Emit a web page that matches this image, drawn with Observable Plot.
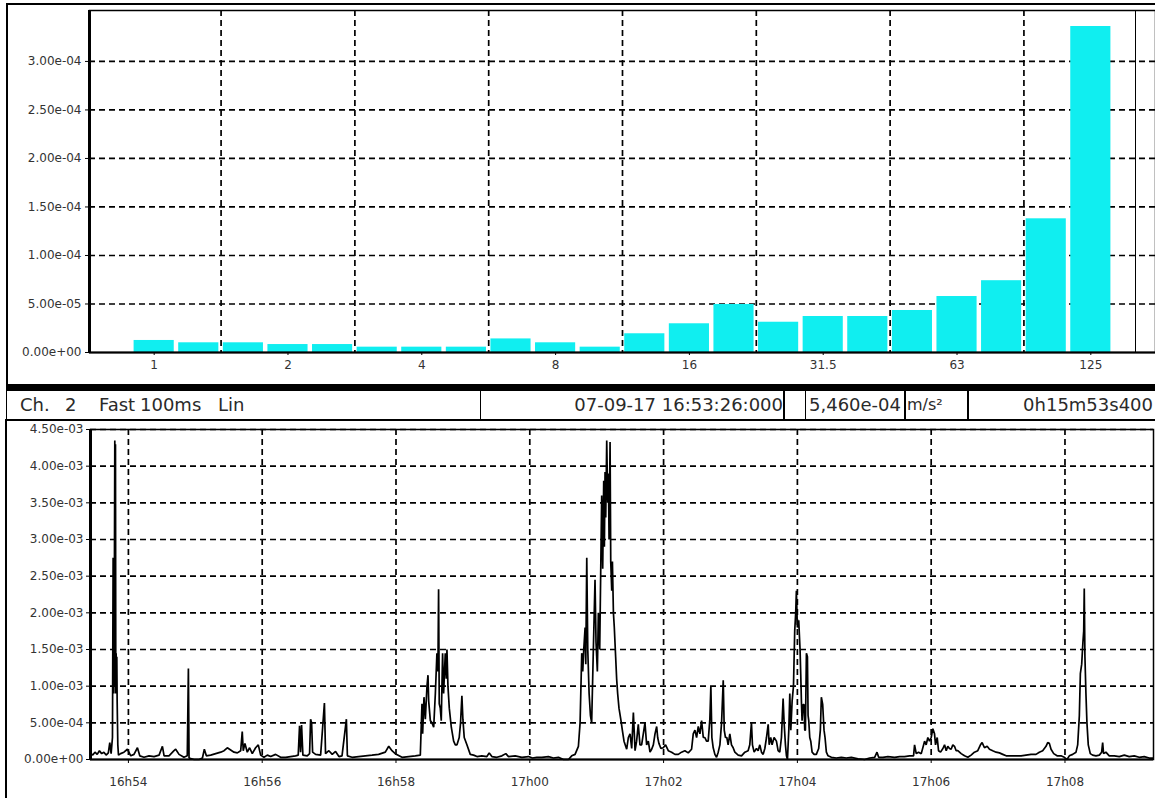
<!DOCTYPE html>
<html>
<head>
<meta charset="utf-8">
<script src="https://cdn.jsdelivr.net/npm/d3@7"></script>
<script src="https://cdn.jsdelivr.net/npm/@observablehq/plot@0.6"></script>
<style>
html,body{margin:0;padding:0;background:#fff;}
#root{position:relative;width:1155px;height:798px;overflow:hidden;background:#fff;font-family:"DejaVu Sans",sans-serif;}
.abs{position:absolute;}
#topPlot{left:0;top:0;}
#botPlot{left:0;top:420px;}
.frameTop{left:6px;top:3px;width:1149px;height:381px;border-top:2px solid #000;border-left:2px solid #000;box-sizing:border-box;}
.thickBar{left:6px;top:384px;width:1149px;height:7px;background:#000;}
.cursor{left:1135px;top:10px;width:0;height:342px;border-left:1.5px solid #000;}
.box{top:390px;height:30px;border:1.5px solid #000;box-sizing:border-box;font-size:18px;line-height:27px;white-space:pre;color:#2a2a2a;overflow:hidden;}
.w{position:absolute;top:0;}
.botFrame{left:5px;top:419px;width:1150px;height:379px;border-top:2px solid #000;border-left:2px solid #000;box-sizing:border-box;}
</style>
</head>
<body>
<div id="root">
  <div id="topPlot" class="abs"></div>
  <div id="botPlot" class="abs"></div>
  <div class="abs frameTop"></div>
  <div class="abs cursor"></div>
  <div class="abs thickBar"></div>
  <div class="abs box" style="left:6px;width:475px;">
    <span class="w" style="left:13px">Ch.</span><span class="w" style="left:58px">2</span><span class="w" style="left:92px">Fast</span><span class="w" style="left:133px">100ms</span><span class="w" style="left:211px">Lin</span>
  </div>
  <div class="abs box" style="left:480px;width:305px;text-align:right;padding-right:1px;">07-09-17 16:53:26:000</div>
  <div class="abs box" style="left:783px;width:23px;"></div>
  <div class="abs box" style="left:805px;width:101px;padding-left:3px;">5,460e-04</div>
  <div class="abs box" style="left:904px;width:64px;padding-left:2px;font-size:16px;">m/s²</div>
  <div class="abs box" style="left:968px;width:190px;text-align:right;padding-right:4px;">0h15m53s400</div>
  <div class="abs botFrame"></div>
</div>
<script>
// ---------- Top chart: third-octave spectrum (m/s²) ----------
const thirdOctaveBands = ["1","1.25","1.6","2","2.5","3.15","4","5","6.3","8","10","12.5","16","20","25","31.5","40","50","63","80","100","125"];
const bandRms = [1.24e-5,1.0e-5,1.0e-5,0.82e-5,0.82e-5,0.55e-5,0.55e-5,0.55e-5,1.4e-5,1.0e-5,0.55e-5,1.93e-5,2.96e-5,4.95e-5,3.12e-5,3.71e-5,3.71e-5,4.33e-5,5.77e-5,7.4e-5,13.78e-5,33.6e-5];
const octaveLabels = ["1","2","4","8","16","31.5","63","125"];
const topYTicks = [0,5e-5,1e-4,1.5e-4,2e-4,2.5e-4,3e-4];
const topYMax = 3.525e-4;

// ---------- Bottom chart: acceleration vs time ----------
const startUtc = Date.UTC(2017, 8, 7, 16, 53, 26);
const durationSec = 953.4;
const botYTicks = [0,5e-4,1e-3,1.5e-3,2e-3,2.5e-3,3e-3,3.5e-3,4e-3,4.5e-3];
// [seconds since start, acceleration in 1e-3 m/s²]
const accelTrace = [
[0.5,0.08],[2,0.06],[4,0.10],[6,0.07],[8,0.12],[10,0.08],[12,0.10],[14,0.06],[16,0.09],[17.3,0.23],[18.5,0.08],[19.7,0.3],[20.3,2.75],[20.9,0.9],[21.5,2.8],[21.8,4.35],[22.1,1.0],[22.4,4.3],[22.7,0.9],[23,1.45],[23.3,0.9],[23.6,1.4],[23.9,0.8],[24.5,0.2],[25.1,0.06],
[27,0.08],[30,0.1],[33.1,0.14],[36.1,0.05],[39,0.07],[42.1,0.16],[44.2,0.05],[48,0.03],[52.5,0.05],[57,0.04],[61.5,0.06],[64.5,0.18],[66,0.05],[70.4,0.05],[74.9,0.12],[76.4,0.14],[79.4,0.07],[83.8,0.03],[86.8,0.05],[87.8,1.24],[88.4,0.02],[92.9,0.0],[97.4,0.0],[100.4,0.02],[102.1,0.14],[103.9,0.05],[107.8,0.06],[112.3,0.08],[116.8,0.1],[119.8,0.12],[122.7,0.16],[125.7,0.13],[128.7,0.1],[131.7,0.09],[134.7,0.12],[136.1,0.38],[137,0.12],[138.5,0.22],[140.6,0.1],[142.7,0.16],[145.1,0.08],[148.1,0.16],[150.5,0.2],[152.6,0.06],[155.6,0.03],[158.6,0.06],[161.6,0.04],[166,0.07],[170.5,0.03],[175,0.03],[179.4,0.04],[183.9,0.05],[186.3,0.06],[187.5,0.46],[188.4,0.1],[189.3,0.47],[190.5,0.06],[194.4,0.05],[196.5,0.08],[197.4,0.55],[198.3,0.5],[199.2,0.1],[201.9,0.07],[206.4,0.06],[209.8,0.77],[210.8,0.08],[213.8,0.12],[216.8,0.07],[219.8,0.11],[222.8,0.04],[225.6,0.05],[229.5,0.55],[230.4,0.05],[234.6,0.03],[240.5,0.04],[246.5,0.05],[252.5,0.06],[258.4,0.07],[264.4,0.1],[267.5,0.18],[270.4,0.12],[273.3,0.08],
[279.4,0.03],[285.4,0.04],[291.3,0.05],[295.8,0.06],[297.3,0.76],[297.9,0.35],[299.1,0.85],[300.3,0.55],[301.8,1.0],[302.7,1.15],[303.3,0.8],[304.8,0.53],[306.3,0.5],[307.8,0.44],[309.3,0.9],[310.7,1.45],[311.6,1.2],[312.2,2.32],[312.8,0.76],[313.7,0.7],[314.6,0.53],[315.8,1.45],[316.7,0.9],[318.2,1.45],[319.1,1.1],[319.7,1.5],[320.6,1.0],[321.8,0.7],[323.6,0.44],[325.7,0.25],[327.2,0.2],[328.7,0.2],[330.7,0.3],[331.9,0.5],[333.1,0.87],[334,0.55],[335.2,0.3],[337.6,0.2],[340.6,0.07],[343.6,0.06],[346.6,0.04],[351,0.05],[355.5,0.04],[357.6,0.09],[360,0.04],[364.5,0.03],[369,0.05],[372.5,0.08],[374.9,0.04],[380.9,0.05],[386.9,0.03],[392.8,0.04],[396.4,0.02],[400.3,0.03],[404.8,0.03],[410.7,0.04],[415.2,0.02],[419.7,0.03],[424.2,0.0],[428.7,0.0],[431.6,0.05],[434.6,0.07],[437.6,0.18],[439.1,0.5],[440.6,1.45],[441.5,1.2],[442.4,1.5],[443.6,1.8],[444.2,1.3],[445.1,2.75],[446,1.5],[447.2,0.9],[448.4,0.6],[449.5,0.5],[451,1.5],[452.5,2.45],[453.4,1.6],[454.6,1.2],[455.5,2.0],[456.7,1.5],[457.6,2.55],[458.5,3.6],[459.4,2.6],[460.3,3.8],[460.9,2.9],[461.5,3.92],[462.1,3.3],[463,4.35],[463.9,3.5],[464.5,3.9],[465.1,3.0],[466,4.33],[466.6,2.7],[467.5,2.3],[468.1,2.7],[469,2.0],[469.8,1.8],[471,1.4],[471.9,1.1],[472.8,0.9],[474,0.7],[475.8,0.53],[477,0.4],[478.5,0.25],[480.9,0.14],[482.4,0.3],[483.9,0.35],[485.4,0.15],[486.9,0.64],[488.4,0.12],[489.8,0.25],[491.3,0.48],[492.8,0.2],[494.3,0.2],[495.8,0.35],[497.3,0.5],[498.8,0.2],[500.3,0.25],[501.8,0.1],[503.3,0.14],[504.8,0.2],[506.3,0.35],[507.8,0.45],[508.7,0.3],[509.8,0.22],[511.6,0.15],[513.7,0.16],[515.8,0.2],[518.2,0.12],[521.2,0.1],[524.2,0.07],[527.2,0.07],[530.1,0.1],[533.1,0.12],[536.1,0.09],[539.1,0.14],[540.6,0.35],[542.1,0.4],[543.6,0.3],[545.1,0.45],[546.6,0.35],[548.1,0.53],[549.6,0.3],[551,0.3],[552.5,0.25],[554,0.25],[555.5,0.55],[556.4,1.0],[557.3,0.3],[558.5,0.16],[560,0.07],[561.5,0.03],[563,0.1],[564.5,0.2],[566,0.5],[567.5,1.08],[568.4,0.4],[569.5,0.3],[570.7,0.3],[571.9,0.2],[573.4,0.35],[574.9,0.2],[576.4,0.16],[577.9,0.1],[580.9,0.06],[583.9,0.05],[586.9,0.1],[589.8,0.12],[591.3,0.2],[592.8,0.5],[593.7,0.2],[595.2,0.1],[597.3,0.15],[598.8,0.12],[600.3,0.2],[601.8,0.1],[603.3,0.07],[604.8,0.15],[606.3,0.3],[607.8,0.48],[608.7,0.2],[610.1,0.3],[611.3,0.2],[613.1,0.3],[615.2,0.25],[616.7,0.12],[618.2,0.1],[619.7,0.3],[621.2,0.83],[622.1,0.5],[623.3,0.2],[624.2,0.05],[625.1,0.0],[626.3,0.4],[627.2,0.9],[628.1,0.4],[629.3,0.8],[630.5,1.0],[631.6,1.75],[632.5,2.0],[633.1,2.3],[634,1.8],[635.2,1.9],[636.4,1.5],
[637,1.17],[637.6,0.8],[638.2,0.53],[639.1,0.75],[640,0.75],[640.6,0.4],[641.2,0.4],[642.1,1.45],[643,1.4],[643.6,0.6],[644.2,0.53],[645.1,0.3],[646,0.25],[647.2,0.1],[649,0.07],[651,0.07],[653.1,0.15],[654.6,0.4],[655.5,0.85],[656.7,0.75],[657.9,0.4],[658.8,0.3],[660,0.1],[661.5,0.05],[664.5,0.03],[669,0.02],[673.4,0.03],[677.9,0.02],[682.4,0.03],[688.4,0.01],[694.3,0.0],[698.8,0.02],[703.3,0.03],[705.4,0.1],[706.9,0.03],[710.7,0.03],[715.2,0.04],[721.2,0.03],[725.7,0.04],[730.1,0.04],[734.6,0.05],[738.2,0.05],[739.1,0.2],[740.6,0.08],[742.7,0.1],[745.1,0.08],[748.1,0.25],[749.5,0.2],[751,0.3],[752.5,0.25],[754,0.3],[755.5,0.42],[757,0.35],[757.9,0.2],[759.4,0.3],[760.6,0.12],[762.4,0.1],[764.5,0.15],[766,0.2],[767.5,0.12],[768.9,0.18],[770.4,0.15],[771.9,0.14],[773.4,0.2],[774.9,0.18],[776.4,0.12],[777.9,0.12],[780.9,0.08],[783.9,0.05],[786.9,0.03],[789.8,0.06],[792.8,0.1],[795.8,0.12],[798.2,0.2],[799.7,0.23],[801.8,0.16],[804.2,0.18],[806.3,0.14],[809.2,0.12],[812.2,0.1],[815.2,0.09],[818.2,0.07],[821.2,0.05],[825.7,0.05],[830.1,0.05],[834.6,0.05],[839.1,0.06],[843.6,0.07],[848,0.07],[851,0.1],[854,0.12],[857,0.18],[858.5,0.23],[860,0.22],[861.5,0.14],[863.9,0.08],[866.9,0.05],[870.4,0.05],[873.4,0.03],[875.8,0.0],[877.9,0.05],[880.9,0.07],[883.9,0.1],[885.4,0.2],[886.9,0.6],[887.8,1.17],[889,1.3],[890.1,1.6],[890.8,1.75],[891.3,2.33],[891.9,1.4],[892.8,0.9],[893.7,0.5],[894.9,0.2],[896.7,0.08],[898.8,0.06],[901.8,0.05],[904.8,0.06],[906.9,0.1],[907.8,0.23],[908.6,0.08],[910.7,0.1],[913.7,0.05],[918.2,0.05],[922.7,0.04],[927.2,0.06],[931.6,0.04],[936.1,0.05],[940.6,0.03],[945.1,0.04],[949.5,0.02],[953,0.02]
];

// ---------- helpers ----------
const sci = v => { const [m, e] = v.toExponential(2).split("e"); return m + "e" + e[0] + e.slice(1).padStart(2, "0"); };
const grid = {stroke: "#000", strokeWidth: 1.7, strokeDasharray: "6,4"};
const axisStyle = {fontFamily: "DejaVu Sans, sans-serif", fontSize: "12px", color: "#333", background: "transparent", overflow: "visible"};

// ---------- top plot ----------
const bars = thirdOctaveBands.map((band, i) => ({band, i, v: bandRms[i]}));
const xDom = [-1.45, thirdOctaveBands.length + 0.45];
const octaveIdx = bars.filter(b => octaveLabels.includes(b.band)).map(b => b.i);
const bandGrid = octaveIdx.slice(0, -1).map(i => i + 1.5);

const topChart = Plot.plot({
  width: 1155, height: 384,
  marginLeft: 89, marginRight: 0, marginTop: 10, marginBottom: 32,
  style: axisStyle,
  x: {type: "linear", domain: xDom},
  y: {domain: [0, topYMax]},
  marks: [
    Plot.ruleY(topYTicks.filter(d => d > 0), grid),
    Plot.ruleX(bandGrid, grid),
    Plot.rectY(bars, {x1: d => d.i - 0.45, x2: d => d.i + 0.45, y: "v", fill: "#10eef0"}),
    Plot.axisY(topYTicks, {tickFormat: sci, tickSize: 4, tickPadding: 4, stroke: "#000", fill: "#333", label: null}),
    Plot.axisX(octaveIdx, {tickFormat: i => thirdOctaveBands[i], tickSize: 3, tickPadding: 5, stroke: "#000", fill: "#333", label: null}),
    Plot.frame({stroke: "#000", strokeWidth: 1.5}),
    Plot.ruleX([xDom[0]], {stroke: "#000", strokeWidth: 3}),
    Plot.ruleY([0], {stroke: "#000", strokeWidth: 2})
  ]
});
document.getElementById("topPlot").appendChild(topChart);

// ---------- bottom plot ----------
const t0 = new Date(startUtc);
const t1 = new Date(startUtc + durationSec * 1000);
const trace = accelTrace.map(([s, v]) => ({time: new Date(startUtc + s * 1000), a: v * 1e-3}));
const timeTicks = d3.utcMinute.every(2).range(t0, t1);
const fmtTime = d => `${d.getUTCHours()}h${String(d.getUTCMinutes()).padStart(2, "0")}`;

const botChart = Plot.plot({
  width: 1155, height: 378,
  marginLeft: 90, marginRight: 2, marginTop: 9, marginBottom: 39,
  style: axisStyle,
  x: {type: "utc", domain: [t0, t1]},
  y: {domain: [0, botYTicks[botYTicks.length - 1]]},
  marks: [
    Plot.ruleY(botYTicks.slice(1), grid),
    Plot.ruleX(timeTicks, grid),
    Plot.line(trace, {x: "time", y: "a", stroke: "#000", strokeWidth: 1.7, strokeLinejoin: "miter"}),
    Plot.axisY(botYTicks, {tickFormat: sci, tickSize: 4, tickPadding: 3, stroke: "#000", fill: "#333", label: null}),
    Plot.axisX(timeTicks, {tickFormat: fmtTime, tickSize: 4, tickPadding: 14, stroke: "#000", fill: "#333", label: null}),
    Plot.frame({stroke: "#000", strokeWidth: 1.5}),
    Plot.ruleX([t0], {stroke: "#000", strokeWidth: 3}),
    Plot.ruleY([0], {stroke: "#000", strokeWidth: 2})
  ]
});
document.getElementById("botPlot").appendChild(botChart);
</script>
</body>
</html>
